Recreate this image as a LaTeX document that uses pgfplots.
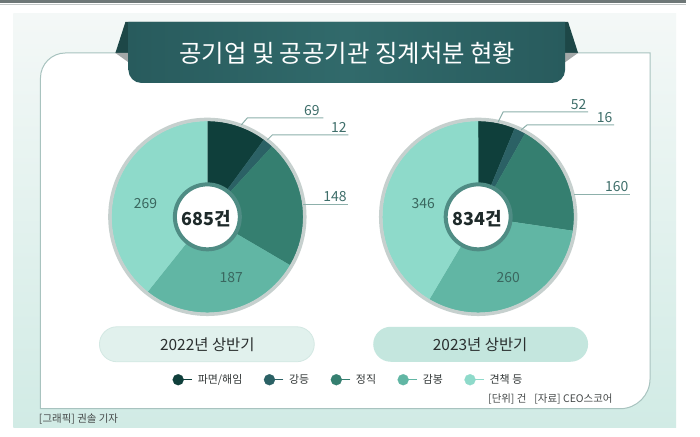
\documentclass[border=0pt]{standalone}
\usepackage{fontspec}
\setmainfont{Noto Sans CJK KR}
\usepackage{pgfplots}
\usepackage{pgfplotstable}
\pgfplotsset{compat=1.18}

\definecolor{slice0}{HTML}{0F3F3B}
\definecolor{slice1}{HTML}{2B6165}
\definecolor{slice2}{HTML}{357F70}
\definecolor{slice3}{HTML}{61B6A4}
\definecolor{slice4}{HTML}{8EDACA}
\definecolor{ringgray}{HTML}{C6D0CE}
\definecolor{innerring}{HTML}{4F8C84}
\definecolor{banner}{HTML}{285B5D}
\definecolor{bannerlight}{HTML}{316A6B}
\definecolor{bannerback}{HTML}{1D4747}
\definecolor{foldgray}{HTML}{A3A8A8}
\definecolor{bgtop}{HTML}{F4F8F7}
\definecolor{bgbot}{HTML}{D1EBE5}
\definecolor{panelline}{HTML}{A8C3BF}
\definecolor{leader}{HTML}{8DB0AB}
\definecolor{labout}{HTML}{3E6E6A}
\definecolor{labin}{HTML}{3A675F}
\definecolor{pillA}{HTML}{E1F1ED}
\definecolor{pillAline}{HTML}{D3E8E3}
\definecolor{pillB}{HTML}{C4E6DE}
\definecolor{txt}{HTML}{333838}
\definecolor{topline}{HTML}{6E7777}
\definecolor{toplight}{HTML}{C3C8C8}
\definecolor{centertxt}{HTML}{1E2A2A}
\definecolor{pilltxt}{HTML}{2A2F2F}
\definecolor{foot}{HTML}{444848}

\pgfplotstableread{
idx value
0 69
1 12
2 148
3 187
4 269
}\dataA
\pgfplotstableread{
idx value
0 52
1 16
2 160
3 260
4 346
}\dataB

% cumulative angles (degrees, clockwise from 12 o'clock)
\newcommand\cumangles[2]{%
  \gdef\cumsum{0}%
  \foreach \i in {0,...,4}{%
    \pgfplotstablegetelem{\i}{value}\of{#1}%
    \pgfmathsetmacro\tmp{\cumsum+\pgfplotsretval}%
    \xdef\cumsum{\tmp}%
    \expandafter\xdef\csname #2c\i\endcsname{\tmp}%
  }%
  \xdef\tot{\cumsum}%
  \expandafter\xdef\csname #2s0\endcsname{0}%
  \foreach \i in {0,...,4}{%
    \pgfmathsetmacro\tmp{360*(\csname #2c\i\endcsname/\tot)}%
    \expandafter\xdef\csname #2e\i\endcsname{\tmp}%
    \pgfmathtruncatemacro\j{\i+1}%
    \expandafter\xdef\csname #2s\j\endcsname{\tmp}%
  }%
}
\cumangles{\dataA}{A}
\cumangles{\dataB}{B}

\pgfplotsset{leg/.style={legend image code/.code={%
  \draw[#1, line width=1.3bp] (0bp,0bp) -- (14bp,0bp);
  \fill[#1] (0bp,0bp) circle (5.5bp);}}}

\begin{document}
\begin{tikzpicture}
\begin{axis}[
  scale only axis, width=700bp, height=437bp,
  xmin=0, xmax=700, ymin=0, ymax=437, enlargelimits=false,
  y dir=reverse, hide axis, clip=false,
  legend entries={파면/해임,강등,정직,감봉,견책 등},
  legend columns=5,
  legend style={at={(axis cs:172,380)}, anchor=west, draw=none, fill=none,
    inner sep=0pt, font=\fontsize{11}{13}\selectfont\color{txt},
    /tikz/every even column/.append style={column sep=19.5bp},
    /tikz/column 2/.style={column sep=15bp},
    /tikz/every odd column/.append style={column sep=3bp}},
]
% page and background
\fill[white] (0,0) rectangle (700,437);
\fill[topline] (0,0) rectangle (686,3);
\draw[toplight, line width=1bp] (0,4.5) -- (686,4.5);
\shade[top color=bgtop, bottom color=bgbot] (13,14) rectangle (676,428);
% white panel
\filldraw[fill=white, draw=panelline, line width=1bp]
  (40,409) -- (40,78) arc[start angle=180, end angle=90, radius=25bp]
  -- (650,53) -- (650,379) arc[start angle=0, end angle=-90, radius=30bp] -- cycle;
% banner
\fill[bannerback] (125,22) -- (568,22) -- (578,53) -- (115,53) -- cycle;
\fill[foldgray] (115,53) -- (129,53) -- (129,63) -- cycle;
\fill[foldgray] (578,53) -- (564,53) -- (564,63) -- cycle;
\shade[left color=banner, right color=banner, middle color=bannerlight]
  (128,22) -- (565,22) -- (565,70) arc[start angle=0, end angle=-90, radius=13bp]
  -- (141,83) arc[start angle=270, end angle=180, radius=13bp] -- cycle;
\node[white, font=\fontsize{24.5}{28}\selectfont] at (axis cs:347,53) {공기업 및 공공기관 징계처분 현황};

% pie 2022
\pgfplotsinvokeforeach{0,...,4}{%
  \edef\doslice{\noexpand\addplot[fill=slice#1, draw=slice#1, line width=0.2bp, leg=slice#1,
    domain=\csname As#1\endcsname:\csname Ae#1\endcsname, samples=80]
    ({207+96*sin(x)},{217-96*cos(x)}) -- (207,217) -- cycle;}%
  \doslice
}
% pie 2023
\pgfplotsinvokeforeach{0,...,4}{%
  \edef\doslice{\noexpand\addplot[fill=slice#1, draw=slice#1, line width=0.2bp, forget plot,
    domain=\csname Bs#1\endcsname:\csname Be#1\endcsname, samples=80]
    ({478+96*sin(x)},{217-96*cos(x)}) -- (478,217) -- cycle;}%
  \doslice
}
% rings and centres
\draw[ringgray, line width=3.5bp] (axis cs:207,217) circle[radius=97.5bp];
\draw[ringgray, line width=3.5bp] (axis cs:478,217) circle[radius=97.5bp];
\filldraw[fill=white, draw=innerring, line width=4bp] (axis cs:207,217) circle[radius=32.5bp];
\filldraw[fill=white, draw=innerring, line width=4bp] (axis cs:478,217) circle[radius=32.5bp];
\node[font=\fontsize{18}{21}\selectfont\bfseries, centertxt] at (axis cs:206,219) {685건};
\node[font=\fontsize{18}{21}\selectfont\bfseries, centertxt] at (axis cs:477,219) {834건};

% leader lines and labels
\draw[leader, line width=1bp] (241,125) -- (247,118) -- (323,118);
\draw[leader, line width=1bp] (267,140) -- (272,135) -- (348,135);
\draw[leader, line width=1bp] (303,205) -- (348,205);
\draw[leader, line width=1bp] (498,122) -- (503,112) -- (588,112);
\draw[leader, line width=1bp] (521,130) -- (527,125) -- (614,125);
\draw[leader, line width=1bp] (574,195) -- (630,195);
\begin{scope}[every node/.style={font=\fontsize{14}{16}\selectfont, labout, inner sep=1.5bp}]
\node[anchor=south east] at (axis cs:321,117) {69};
\node[anchor=south east] at (axis cs:348,134) {12};
\node[anchor=south east] at (axis cs:348,204) {148};
\node[anchor=south east] at (axis cs:588,111) {52};
\node[anchor=south east] at (axis cs:614,124) {16};
\node[anchor=south east] at (axis cs:630,194) {160};
\end{scope}
\begin{scope}[every node/.style={font=\fontsize{14}{16}\selectfont, labin}]
\node at (axis cs:145,204) {269};
\node at (axis cs:231,278) {187};
\node at (axis cs:423,204) {346};
\node at (axis cs:508,278) {260};
\end{scope}

% year pills
\filldraw[fill=pillA, draw=pillAline, line width=0.8bp, rounded corners=17.5bp] (99,327) rectangle (314,362);
\fill[pillB, rounded corners=17.5bp] (373,327) rectangle (588,362);
\node[font=\fontsize{15.5}{18}\selectfont, pilltxt] at (axis cs:207,344.5) {2022년 상반기};
\node[font=\fontsize{15.5}{18}\selectfont, pilltxt] at (axis cs:480,344.5) {2023년 상반기};

% footer texts
\node[anchor=east, font=\fontsize{10.5}{12}\selectfont, foot] at (axis cs:616,399) {[단위] 건\hspace{8bp}[자료] CEO스코어};
\node[anchor=west, font=\fontsize{10.5}{12}\selectfont, foot] at (axis cs:35,419) {[그래픽] 권솔 기자};
\end{axis}
\end{tikzpicture}
\end{document}
